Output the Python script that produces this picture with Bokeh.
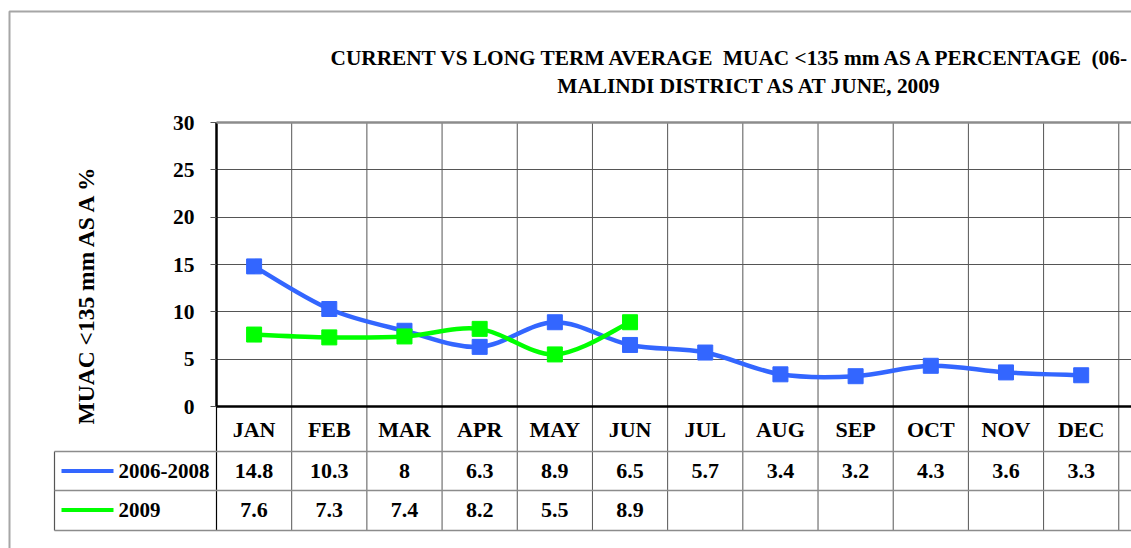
import math
from bokeh.plotting import figure
from bokeh.models import Range1d, FixedTicker
from bokeh.core.properties import value
from bokeh.embed import file_html
from bokeh.resources import INLINE

# ---------------- data ----------------
months = ["JAN", "FEB", "MAR", "APR", "MAY", "JUN", "JUL", "AUG", "SEP", "OCT", "NOV", "DEC"]
series_names = ["2006-2008", "2009"]
avg_2006_2008 = [14.8, 10.3, 8, 6.3, 8.9, 6.5, 5.7, 3.4, 3.2, 4.3, 3.6, 3.3]
cur_2009 = [7.6, 7.3, 7.4, 8.2, 5.5, 8.9]
y_ticks = [0, 5, 10, 15, 20, 25, 30]
title_lines = ["CURRENT VS LONG TERM AVERAGE\u00a0 MUAC <135 mm AS A PERCENTAGE\u00a0 (06-",
               "MALINDI DISTRICT AS AT JUNE, 2009"]
y_label = "MUAC <135 mm AS A %"
colors = ["#3366FF", "#00FF00"]

# ---------------- geometry ----------------
W, H = 1131, 548
AX_X = 216.0                  # x of y-axis (category 0)
COL_W = 75.19                 # px per category
Y0_PX = 406.0                 # y of value 0
PX_PER_UNIT = 9.4667          # px per percent

FRAME_L = int(AX_X)
FRAME_T = 122
FRAME_B = 10
frame_w = W - FRAME_L
frame_h = H - FRAME_T - FRAME_B


def dx(px):
    return (px - AX_X) / COL_W


def dy(py):
    return (Y0_PX - py) / PX_PER_UNIT


FONT = "Liberation Serif"

p = figure(width=W, height=H, output_backend="svg", toolbar_location=None,
           x_axis_type=None, title=None,
           x_range=Range1d(0, frame_w / COL_W),
           y_range=Range1d(30 - frame_h / PX_PER_UNIT, 30),
           min_border_left=FRAME_L, min_border_right=0,
           min_border_top=FRAME_T, min_border_bottom=FRAME_B)
p.outline_line_color = None
p.background_fill_color = "white"
p.border_fill_color = "white"

# y axis
ax = p.yaxis[0]
ax.ticker = FixedTicker(ticks=y_ticks)
ax.bounds = (0, 30)
ax.axis_line_width = 2.5
ax.axis_line_color = "black"
ax.major_tick_line_color = "#555555"
ax.major_tick_out = 6
ax.major_tick_in = 0
ax.minor_tick_line_color = None
ax.major_label_text_font = FONT
ax.major_label_text_font_style = "bold"
ax.major_label_text_font_size = "21.5px"
ax.major_label_text_color = "black"
ax.major_label_standoff = 16

# horizontal grid
g = p.ygrid[0]
g.ticker = FixedTicker(ticks=y_ticks[1:-1])
g.grid_line_color = "#555555"
g.grid_line_width = 1
p.xgrid.visible = False

x_end = frame_w / COL_W
n = len(months)
t_row1 = dy(451)
t_row2 = dy(490)
t_bot = dy(530)
leg_l = dx(54)

# top border of plot area (30)
p.segment(x0=[0], y0=[30], x1=[x_end], y1=[30], line_color="#8C8C8C", line_width=2.5, level="overlay")

# vertical grid lines (through chart and table)
bounds = list(range(1, n + 1))
p.segment(x0=bounds, y0=[30] * n, x1=bounds, y1=[t_bot] * n, line_color="#555555", line_width=1)
# table left borders
p.segment(x0=[0], y0=[0], x1=[0], y1=[t_bot], line_color="black", line_width=1.2, level="overlay")
p.segment(x0=[leg_l], y0=[t_row1], x1=[leg_l], y1=[t_bot], line_color="#555555", line_width=1.2,
          level="overlay")
# table horizontal lines
p.segment(x0=[leg_l] * 3, y0=[t_row1, t_row2, t_bot], x1=[x_end] * 3, y1=[t_row1, t_row2, t_bot],
          line_color="#8C8C8C", line_width=1.5, level="overlay")
# x axis line (0)
p.segment(x0=[0], y0=[0], x1=[x_end], y1=[0], line_color="black", line_width=2.5, level="overlay")


# smoothed lines (Excel-style Catmull-Rom bezier)
def bez(ys):
    xs = [i + 0.5 for i in range(len(ys))]
    out = dict(x0=[], y0=[], x1=[], y1=[], cx0=[], cy0=[], cx1=[], cy1=[])
    m = len(ys)
    for i in range(m - 1):
        p0 = (xs[max(i - 1, 0)], ys[max(i - 1, 0)])
        p1 = (xs[i], ys[i])
        p2 = (xs[i + 1], ys[i + 1])
        p3 = (xs[min(i + 2, m - 1)], ys[min(i + 2, m - 1)])
        out["x0"].append(p1[0]); out["y0"].append(p1[1])
        out["x1"].append(p2[0]); out["y1"].append(p2[1])
        out["cx0"].append(p1[0] + (p2[0] - p0[0]) / 6); out["cy0"].append(p1[1] + (p2[1] - p0[1]) / 6)
        out["cx1"].append(p2[0] - (p3[0] - p1[0]) / 6); out["cy1"].append(p2[1] - (p3[1] - p1[1]) / 6)
    return out


for vals, col in zip([avg_2006_2008, cur_2009], colors):
    p.bezier(**bez(vals), line_color=col, line_width=4.5)
    p.scatter([i + 0.5 for i in range(len(vals))], vals, marker="square", size=15,
              fill_color=col, line_color=col)

# table texts
txt_kw = dict(text_font=value(FONT), text_font_style="bold", text_font_size="22px",
              text_color="black", text_baseline="middle")
p.text(x=[i + 0.5 for i in range(n)], y=[dy(428.5)] * n, text=months, text_align="center", **txt_kw)
for vals, row_py in zip([avg_2006_2008, cur_2009], [470.5, 509.5]):
    p.text(x=[i + 0.5 for i in range(len(vals))], y=[dy(row_py)] * len(vals),
           text=[f"{v:g}" for v in vals], text_align="center", **txt_kw)

# legend keys in the table
leg_kw = dict(txt_kw, text_font_size="21px")
for name, col, row_py in zip(series_names, colors, [470.5, 509.5]):
    p.segment(x0=[dx(61)], y0=[dy(row_py)], x1=[dx(113)], y1=[dy(row_py)],
              line_color=col, line_width=4, level="overlay")
    p.scatter([dx(87.5)], [dy(row_py)], marker="square", size=13, fill_color=col, line_color=col,
              level="overlay")
    p.text(x=[dx(118)], y=[dy(row_py)], text=[name], text_align="left", level="overlay", **leg_kw)

# outer chart border
p.line([dx(9), dx(9), dx(1140)], [dy(560), dy(11), dy(11)], line_color="#A6A6A6", line_width=2,
       level="overlay")

# title: first line starts at x=330, second centred
title_kw = dict(txt_kw, text_font_size="21.3px")
p.text(x=[dx(330)], y=[dy(57.5)], text=[title_lines[0]], text_align="left", level="overlay", **title_kw)
p.text(x=[dx(749.5)], y=[dy(85.5)], text=[title_lines[1]], text_align="center", level="overlay",
       **title_kw)

# y axis label
p.text(x=[dx(85)], y=[dy(293.5)], text=[y_label], angle=math.pi / 2, text_align="center",
       text_baseline="middle", text_font=value(FONT), text_font_style="bold",
       text_font_size="23.5px", text_color="black", level="overlay")

open("out.html", "w").write(file_html(p, INLINE))
